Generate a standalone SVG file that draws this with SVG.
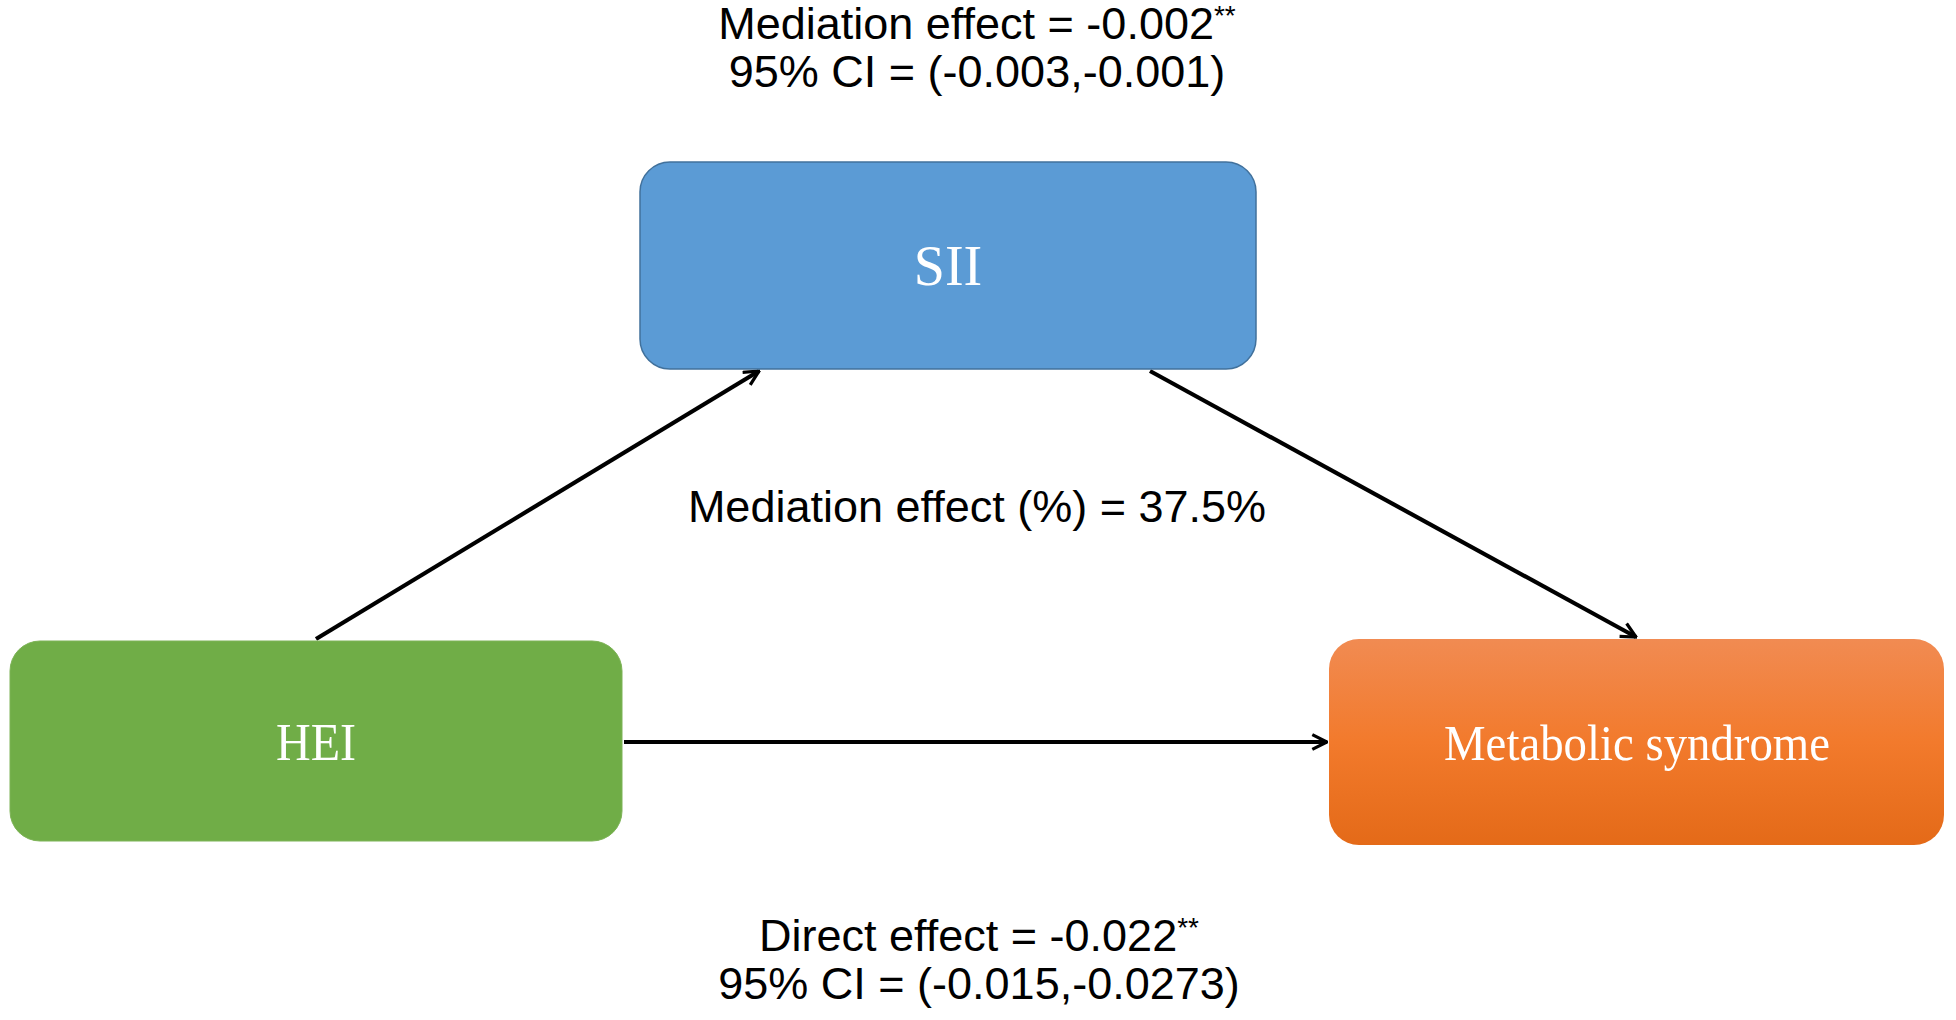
<svg xmlns="http://www.w3.org/2000/svg" width="1956" height="1020" viewBox="0 0 1956 1020">
<style>
.lbl{font-family:"Liberation Sans",Arial,sans-serif;font-size:45px;fill:#000;text-anchor:middle}
.sup{font-size:28px}
.nt{font-family:"Liberation Serif","Times New Roman",serif;fill:#fff;text-anchor:middle}
.conn{stroke:#000;stroke-width:4.2;fill:none}
</style>
<defs>
<marker id="arr" viewBox="0 0 12 12" refX="11" refY="6" markerWidth="4.2" markerHeight="4.2" orient="auto" markerUnits="strokeWidth">
<path d="M1,1 L11,6 L1,11" fill="none" stroke="#000" stroke-width="2.2"/>
</marker>
<linearGradient id="og" x1="0" y1="0" x2="0" y2="1">
<stop offset="0" stop-color="#F18B52"/>
<stop offset="0.5" stop-color="#F27A2C"/>
<stop offset="1" stop-color="#E46A18"/>
</linearGradient>
</defs>
<rect width="1956" height="1020" fill="#fff"/>
<g id="connectors">
<line class="conn" x1="316" y1="639" x2="759" y2="371" marker-end="url(#arr)"/>
<line class="conn" x1="1150" y1="371" x2="1636" y2="637" marker-end="url(#arr)"/>
<line class="conn" x1="624" y1="742" x2="1327" y2="742" marker-end="url(#arr)"/>
</g>
<g id="node-sii">
<rect x="640" y="162" width="616" height="207" rx="30" ry="30" fill="#5B9BD5" stroke="#41719C" stroke-width="1.5"/>
<text class="nt" x="948" y="285" font-size="56">SII</text>
</g>
<g id="node-hei">
<rect x="10" y="641" width="612" height="200" rx="30" ry="30" fill="#70AD47" stroke="#7DB356" stroke-width="1"/>
<text class="nt" x="316" y="760" font-size="52" textLength="80" lengthAdjust="spacingAndGlyphs">HEI</text>
</g>
<g id="node-mets">
<rect x="1329" y="639" width="615" height="206" rx="30" ry="30" fill="url(#og)"/>
<text class="nt" x="1637" y="760" font-size="50" textLength="386" lengthAdjust="spacingAndGlyphs">Metabolic syndrome</text>
</g>
<g id="labels">
<text class="lbl" x="977" y="39">Mediation effect = -0.002<tspan class="sup" dy="-14">**</tspan></text>
<text class="lbl" x="977" y="87">95% CI = (-0.003,-0.001)</text>
<text class="lbl" x="977" y="522">Mediation effect (%) = 37.5%</text>
<text class="lbl" x="979" y="951">Direct effect = -0.022<tspan class="sup" dy="-14">**</tspan></text>
<text class="lbl" x="979" y="999">95% CI = (-0.015,-0.0273)</text>
</g>
</svg>
